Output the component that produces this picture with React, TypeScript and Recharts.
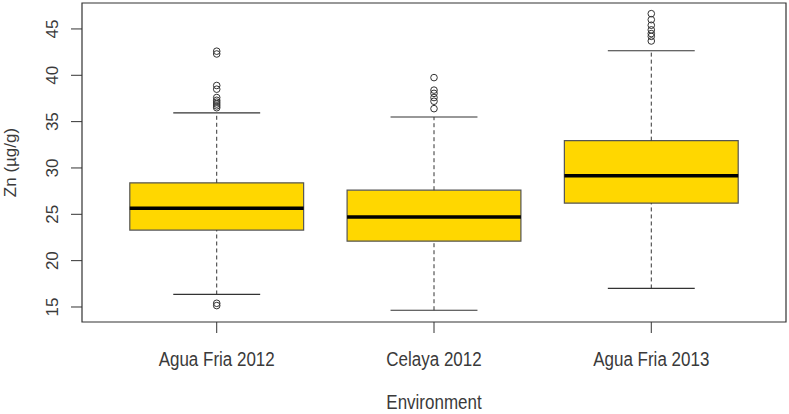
import React from 'react';
import {
  ComposedChart,
  Scatter,
  XAxis,
  YAxis,
  ReferenceArea,
  ReferenceLine,
} from 'recharts';

// Box summary per environment.
const GROUPS = ['Agua Fria 2012', 'Celaya 2012', 'Agua Fria 2013'];
const LOWER_WHISKER = [16.35, 14.65, 17.0];
const Q1 = [23.3, 22.1, 26.2];
const MEDIAN = [25.65, 24.7, 29.15];
const Q3 = [28.4, 27.6, 32.95];
const UPPER_WHISKER = [35.95, 35.5, 42.65];

const OUTLIERS_AF12 = [42.6, 42.3, 38.9, 38.5, 37.6, 37.3, 37.1, 36.9, 36.7, 36.5, 15.4, 15.15];
const OUTLIERS_CEL12 = [39.75, 38.4, 38.05, 37.6, 37.2, 36.4];
const OUTLIERS_AF13 = [46.65, 46.0, 45.4, 44.9, 44.5, 44.2, 43.7];

const Y_TICKS = [15, 20, 25, 30, 35, 40, 45];
const X_DOMAIN: [number, number] = [0.38, 3.62];
const Y_DOMAIN: [number, number] = [13.38, 47.8];

const INK = '#333333';
const TEXT = '#3a3a3a';
const GOLD = '#FFD700';
const FONT = '"Liberation Sans", Arial, sans-serif';

const outlierRows = [OUTLIERS_AF12, OUTLIERS_CEL12, OUTLIERS_AF13].flatMap((vals, i) =>
  vals.map((v) => ({ x: i + 1, y: v }))
);

function OpenCircle(props: any) {
  const { cx, cy } = props;
  if (cx == null || cy == null) return null;
  return <circle cx={cx} cy={cy} r={3.3} fill="none" stroke={INK} strokeWidth={1} />;
}

// the reference text is a little stretched vertically
function TallText({ x, y, children }: any) {
  return (
    <text
      transform={`translate(${x}, ${y}) scale(1, 1.15)`}
      textAnchor="middle"
      fontSize={17}
      fontFamily={FONT}
      fill={TEXT}
    >
      {children}
    </text>
  );
}

function YTick({ x, y, payload }: any) {
  return (
    <text
      transform={`translate(${x - 17}, ${y}) rotate(-90)`}
      textAnchor="middle"
      dominantBaseline="central"
      fontSize={17}
      fontFamily={FONT}
      fill={TEXT}
    >
      {payload.value}
    </text>
  );
}

function XTick({ x, y, payload }: any) {
  const name = GROUPS[Math.round(payload.value) - 1] ?? '';
  return (
    <TallText x={x} y={y + 31}>
      {name}
    </TallText>
  );
}

function XLabel({ viewBox }: any) {
  const { x, y, width, height } = viewBox;
  return (
    <TallText x={x + width / 2} y={y + height - 5}>
      Environment
    </TallText>
  );
}

function YLabel({ viewBox }: any) {
  const { x, y, height } = viewBox;
  return (
    <text
      transform={`translate(${x + 10}, ${y + height / 2}) rotate(-90)`}
      textAnchor="middle"
      dominantBaseline="central"
      fontSize={17}
      fontFamily={FONT}
      fill={TEXT}
    >
      Zn (µg/g)
    </text>
  );
}

export default function App() {
  return (
    <div style={{ position: 'absolute', left: 0, top: 0, width: 789, height: 414, background: '#fff' }}>
      <ComposedChart
        width={789}
        height={414}
        data={outlierRows}
        margin={{ top: 3, right: 3, bottom: 0, left: 0 }}
      >
        <XAxis
          type="number"
          dataKey="x"
          domain={X_DOMAIN}
          ticks={[1, 2, 3]}
          allowDataOverflow
          height={92}
          axisLine={false}
          tickLine={{ stroke: INK }}
          tickSize={11}
          tick={<XTick />}
          label={<XLabel />}
        />
        <YAxis
          type="number"
          dataKey="y"
          domain={Y_DOMAIN}
          ticks={Y_TICKS}
          allowDataOverflow
          width={82}
          axisLine={false}
          tickLine={{ stroke: INK }}
          tickSize={11}
          tick={<YTick />}
          label={<YLabel />}
        />

        {/* plot frame, like R's box() */}
        <ReferenceArea
          x1={X_DOMAIN[0]}
          x2={X_DOMAIN[1]}
          y1={Y_DOMAIN[0]}
          y2={Y_DOMAIN[1]}
          fill="none"
          stroke={INK}
          strokeWidth={1.2}
        />

        {GROUPS.map((g, i) => {
          const c = i + 1;
          return (
            <React.Fragment key={g}>
              {/* dashed whiskers */}
              <ReferenceLine
                segment={[{ x: c, y: Q3[i] }, { x: c, y: UPPER_WHISKER[i] }]}
                stroke={INK}
                strokeDasharray="4 3"
              />
              <ReferenceLine
                segment={[{ x: c, y: LOWER_WHISKER[i] }, { x: c, y: Q1[i] }]}
                stroke={INK}
                strokeDasharray="4 3"
              />
              {/* caps */}
              <ReferenceLine
                segment={[{ x: c - 0.2, y: UPPER_WHISKER[i] }, { x: c + 0.2, y: UPPER_WHISKER[i] }]}
                stroke={INK}
                strokeWidth={1.2}
              />
              <ReferenceLine
                segment={[{ x: c - 0.2, y: LOWER_WHISKER[i] }, { x: c + 0.2, y: LOWER_WHISKER[i] }]}
                stroke={INK}
                strokeWidth={1.2}
              />
              {/* box */}
              <ReferenceArea
                x1={c - 0.4}
                x2={c + 0.4}
                y1={Q1[i]}
                y2={Q3[i]}
                fill={GOLD}
                fillOpacity={1}
                stroke="#555555"
                strokeWidth={1.2}
              />
              {/* median */}
              <ReferenceLine
                segment={[{ x: c - 0.4, y: MEDIAN[i] }, { x: c + 0.4, y: MEDIAN[i] }]}
                stroke="#000"
                strokeWidth={3.5}
              />
            </React.Fragment>
          );
        })}

        <Scatter dataKey="y" shape={<OpenCircle />} isAnimationActive={false} />
      </ComposedChart>
    </div>
  );
}
